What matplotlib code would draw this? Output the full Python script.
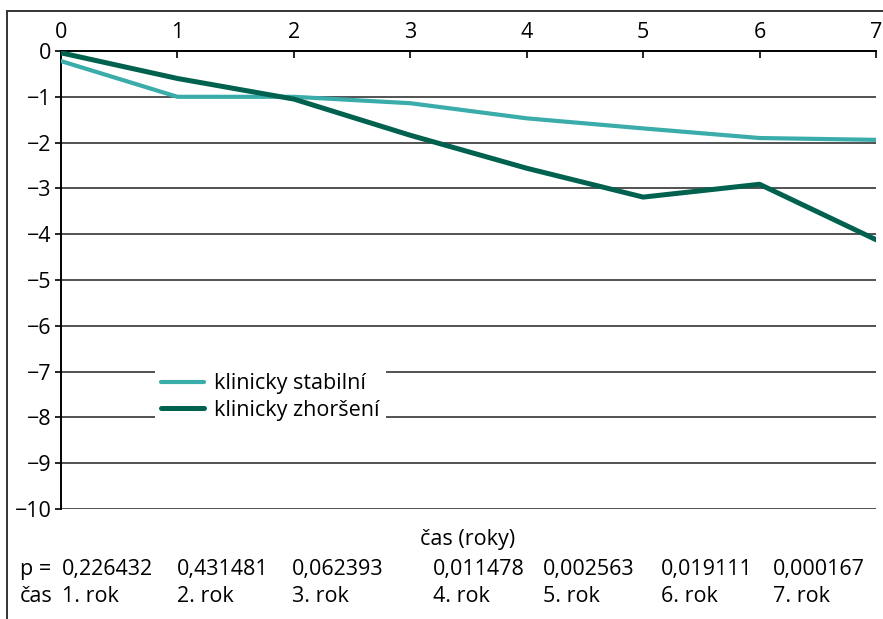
import matplotlib.pyplot as plt
from matplotlib.patches import Rectangle

plt.rcParams['font.family'] = ['Open Sans', 'DejaVu Sans']

# data
years = [0, 1, 2, 3, 4, 5, 6, 7]
stabilni = [-0.22, -1.0, -1.0, -1.14, -1.47, -1.69, -1.9, -1.94]
zhorseni = [-0.04, -0.6, -1.05, -1.84, -2.56, -3.19, -2.91, -4.12]
p_values = ['0,226432', '0,431481', '0,062393', '0,011478', '0,002563', '0,019111', '0,000167']
rok_labels = ['1. rok', '2. rok', '3. rok', '4. rok', '5. rok', '6. rok', '7. rok']

W, H = 883, 619
FS = 15.5
fig = plt.figure(figsize=(W / 100, H / 100), dpi=100)

# outer frame
fig.patches.append(Rectangle((7 / W, -0.1), 1.2, 1 - 11 / H + 0.1, transform=fig.transFigure,
                             fill=False, edgecolor='#333333', linewidth=1.4))

ax = fig.add_axes([61 / W, 1 - 509 / H, (876 - 61) / W, (509 - 51) / H])
ax.set_xlim(0, 7)
ax.set_ylim(-10, 0)

for y in range(-10, 0):
    ax.axhline(y, color='#444444', linewidth=1.3, zorder=1)

ax.plot(years, stabilni, color='#3aacaa', linewidth=3.0, solid_capstyle='round',
        label='klinicky stabilní', zorder=3)
ax.plot(years, zhorseni, color='#00614f', linewidth=3.6, solid_capstyle='round',
        label='klinicky zhoršení', zorder=3)

for s in ['right', 'bottom']:
    ax.spines[s].set_visible(False)
ax.spines['top'].set_linewidth(1.4)
ax.spines['left'].set_linewidth(1.4)

ax.xaxis.tick_top()
ax.set_xticks(years)
ax.set_yticks(range(-10, 1))
ax.set_yticklabels([str(v).replace('-', '\u2212') for v in range(-10, 1)])
ax.tick_params(axis='x', direction='in', length=5, width=1.2, labelsize=FS, pad=6)
ax.tick_params(axis='y', direction='out', length=4, width=1.2, labelsize=FS, pad=3)

leg = ax.legend(loc='upper left', bbox_to_anchor=(0.115, 0.31), fontsize=FS,
                frameon=True, fancybox=False, framealpha=1, edgecolor='none',
                handlelength=2.0, handletextpad=0.45, labelspacing=0.25,
                borderpad=0.3, borderaxespad=0)
leg.set_zorder(5)

fig.text(468 / W, 1 - 540 / H, 'čas (roky)', ha='center', va='center', fontsize=FS)

col_x = [62, 177, 292, 433, 543, 661, 773]
fig.text(20 / W, 1 - 570 / H, 'p =', ha='left', va='center', fontsize=FS)
fig.text(20 / W, 1 - 597 / H, 'čas', ha='left', va='center', fontsize=FS)
for xp, pv, rk in zip(col_x, p_values, rok_labels):
    fig.text(xp / W, 1 - 570 / H, pv, ha='left', va='center', fontsize=FS)
    fig.text(xp / W, 1 - 597 / H, rk, ha='left', va='center', fontsize=FS)

fig.savefig('out.png', dpi=100)
